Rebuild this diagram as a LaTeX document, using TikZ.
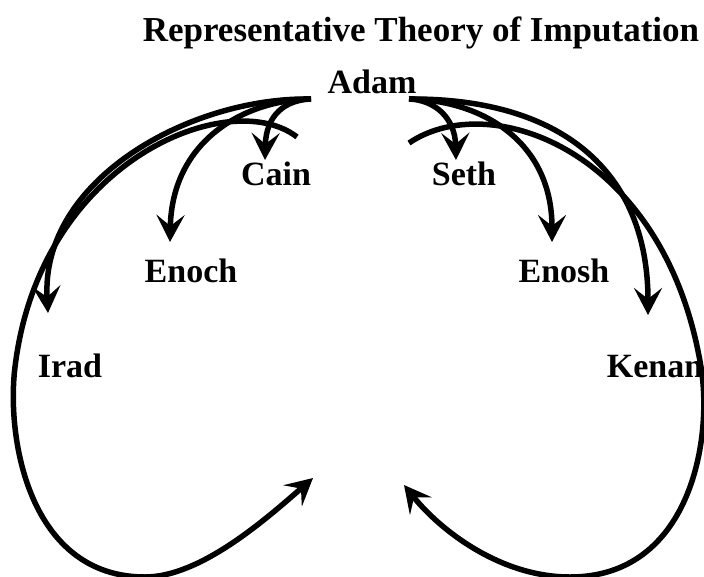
\documentclass[tikz,border=0pt]{standalone}
\usepackage{fontspec}
\setmainfont{Liberation Serif}
\usetikzlibrary{arrows.meta}
\begin{document}
\begin{tikzpicture}[x=1pt,y=-1pt,
  lbl/.style={font=\fontsize{34}{40}\selectfont\bfseries, inner sep=0pt, anchor=base},
  ttl/.style={font=\fontsize{35}{42}\selectfont\bfseries, inner sep=0pt, anchor=base},
  edge/.style={line width=5.5pt, -{Stealth[length=27pt,width=28pt,inset=11pt]}}]
\useasboundingbox (0,0) rectangle (704,576);
% texts
\node[ttl] (title) at (421,41) {Representative Theory of Imputation};
\node[lbl] (adam) at (372,93) {Adam};
\node[lbl] (cain) at (276,185) {Cain};
\node[lbl] (seth) at (464,185) {Seth};
\node[lbl] (enoch) at (191,282) {Enoch};
\node[lbl] (enosh) at (564,282) {Enosh};
\node[lbl] (irad) at (70,377) {Irad};
\node[lbl] (kenan) at (655,377) {Kenan};
% anchor points
\coordinate (aL) at (311,99);
\coordinate (aR) at (409,99);
\coordinate (cT) at (265,160);
\coordinate (eT) at (170,242);
\coordinate (iT) at (48,313);
\coordinate (sT) at (456,160);
\coordinate (nT) at (552,242);
\coordinate (kT) at (648,315);
\coordinate (lS) at (297,137);
\coordinate (l1) at (15,367);
\coordinate (l2) at (145,577);
\coordinate (lT) at (313,478);
\coordinate (rS) at (409,143);
\coordinate (r1) at (701,367);
\coordinate (r2) at (570,577);
\coordinate (rT) at (404,485);
% left side
\draw[edge] (aL) .. controls (285,100) and (266,115) .. (cT);
\draw[edge] (aL) .. controls (245,100) and (172,140) .. (eT);
\draw[edge] (aL) .. controls (190,97) and (40,180) .. (iT);
\draw[edge] (lS) .. controls (230,85) and (40,160) .. (l1)
  .. controls (6,440) and (30,577) .. (l2)
  .. controls (200,577) and (265,520) .. (lT);
% right side
\draw[edge] (aR) .. controls (435,100) and (455,118) .. (sT);
\draw[edge] (aR) .. controls (480,100) and (552,140) .. (nT);
\draw[edge] (aR) .. controls (560,98) and (648,170) .. (kT);
\draw[edge] (rS) .. controls (490,88) and (665,150) .. (r1)
  .. controls (713,440) and (690,577) .. (r2)
  .. controls (500,577) and (440,530) .. (rT);
\end{tikzpicture}
\end{document}
